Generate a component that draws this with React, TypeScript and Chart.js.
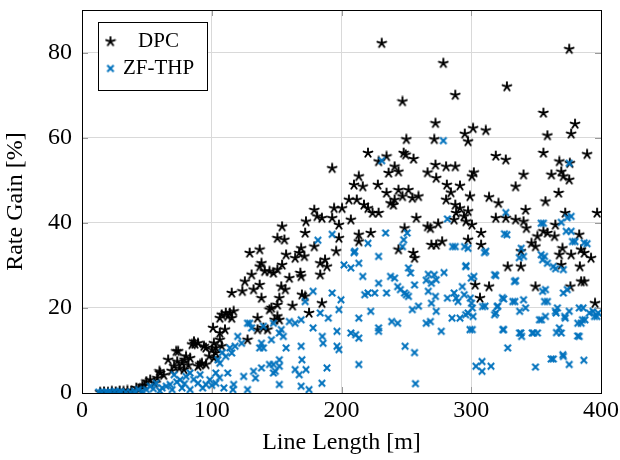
import React, { useEffect, useRef } from "react";
import { Chart, registerables } from "chart.js";

Chart.register(...registerables);

// ---- Data (line length [m], rate gain [%]) ----
const dpcPoints: [number, number][] = [
  [231, 82.2], [375.5, 80.8], [278.5, 77.5], [327.5, 72], [287.7, 70], [247, 68.5], [355.6, 65.8],
  [272.4, 63.4], [380, 63.2], [301.4, 62.2], [311.2, 61.7], [295, 60.9], [358.7, 60.5], [377, 60.9],
  [250, 59.6], [271.5, 59.6], [297.5, 59.1], [192.8, 52.8], [220.4, 56.4], [247.9, 56.4], [249.5, 56],
  [234.7, 55.6], [228.6, 54.4], [255.5, 55], [318.9, 55.7], [326.6, 54.8], [355.6, 56.4], [389.3, 56.1],
  [376, 54], [240.9, 53.2], [236.3, 51.7], [243.9, 52], [272.4, 53.6], [280.6, 53.2], [287.7, 53.2],
  [266.3, 51.8], [273, 50.5], [302, 51.8], [300.5, 50.9], [340.3, 51.3], [361.8, 51.3], [369.4, 52],
  [371, 50.9], [375.5, 50.1], [367.9, 54.4], [213.3, 50.9], [209.6, 48.9], [216.4, 48.5], [228, 48.9],
  [234.7, 47], [243.9, 47.7], [251.6, 47.7], [259.3, 46.2], [254.6, 45.8], [281.2, 48.9], [291.3, 48.7],
  [284.3, 47.1], [299, 46.2], [313.7, 46], [334.2, 48.5], [321, 44.6], [357.2, 45], [367.3, 47],
  [205.7, 45.4], [211.8, 45.4], [217.3, 44.2], [220.4, 43.4], [223.9, 42.3], [228.6, 42.3], [240, 44.2],
  [240.9, 45.4], [280.6, 45.4], [287.7, 44.2], [291.3, 43.4], [297.5, 42.7], [294.4, 41.5], [288.3, 42.3],
  [286.8, 40.7], [296, 40.3], [300.5, 39.5], [274.5, 39.8], [318.9, 41.1], [326.6, 41.1], [334.2, 40.7],
  [340.3, 40.3], [341.9, 43], [342.5, 38.7], [351, 36.8], [355.6, 38], [358.7, 37.6], [364.8, 39.5],
  [372.4, 42.3], [397, 42.3], [364.2, 36.8], [383.2, 37.2], [346.4, 35.2], [349.5, 34.4], [367.9, 32.5],
  [370.3, 34], [377, 32.5], [384.6, 33.7], [387.1, 32.9], [392.3, 31.7], [369.4, 30.1], [383.7, 29.7],
  [384.7, 26.2], [387.1, 26.2], [376.4, 25], [349.5, 25], [338.2, 33.3], [338.2, 29.7], [328.1, 29.7],
  [313.7, 25], [303, 25.4], [306.7, 22.3], [395.4, 21.1], [307.6, 37.6], [307.6, 34.8], [297.5, 36],
  [266.3, 39.1], [268.5, 38.7], [269.3, 34.8], [273, 34.8], [277.6, 35.6], [257.7, 41.1], [248.6, 38.7],
  [243.9, 33.7], [255.3, 32.9], [256.3, 31.7], [237.8, 44.6], [247, 46.2], [213.3, 37.2], [213.3, 35.6],
  [222.5, 37.6], [200.4, 43.4], [194.3, 43.4], [192.8, 41.1], [198, 39.5], [207.2, 40.7], [198, 36.4],
  [195.9, 33.3], [179, 43], [181.2, 41.5], [184.9, 41.1], [172.6, 40.3], [172, 37.6], [179, 34.4],
  [168.9, 34], [167.4, 32.9], [171.4, 32.1], [164.3, 31.7], [157.3, 32.5], [183.6, 30.5], [187.3, 31.3],
  [183.6, 27.8], [188.8, 29.7], [184.9, 21.1], [175, 18.8], [169.5, 23.1], [172, 22.7], [162.2, 20.5],
  [168.3, 28.2], [168.9, 27.4], [159.8, 27], [154.2, 30.1], [153.6, 25], [156.7, 24.3], [150.6, 29],
  [147.5, 28.2], [144.5, 28.6], [150.6, 36.4], [154.2, 39.1], [156, 36], [136.9, 33.7], [129.2, 32.9],
  [138.3, 30.5], [136.9, 29.7], [140.8, 28.6], [130.7, 27.8], [125.5, 26.2], [136.9, 25.4], [132.2, 24.3],
  [123.6, 23.9], [115.4, 23.5], [138.3, 22.3], [146, 20], [152.1, 22.3], [150.6, 20.7], [150.6, 18],
  [148.4, 17.2], [152.1, 17.2], [144.5, 19.6], [135.3, 17.6], [139.8, 15.3], [135.3, 14.9], [143, 14.9],
  [116.9, 19.2], [113.9, 18.8], [110.8, 18.8], [107.7, 18.4], [112.3, 18], [106.2, 17.6], [115.4, 17.6],
  [101, 15.3], [110.2, 14.9], [106.2, 14.1], [127.6, 12.5], [106.2, 12.5], [101.6, 11.7], [103.1, 10.6],
  [107.7, 11], [100.1, 10.2], [103.1, 9.4], [101.6, 8.2], [86.3, 12.1], [89.4, 11.7], [84.8, 11.4],
  [94, 11], [95.5, 10.6], [74.1, 9.8], [80.2, 8.6], [83.3, 8.2], [66.4, 7.8], [73.4, 7.4], [77.1, 7],
  [92.4, 7], [91, 6.7], [89.4, 6.3], [95.5, 6.7], [71, 6.3], [78.6, 5.5], [60.3, 4.7], [52.6, 3.1],
  [49.6, 2.7], [55.7, 2.3], [46.5, 1.6], [41.9, 1.2], [14, 0.2], [17, 0.3], [20, 0.2], [23, 0.4],
  [26, 0.3], [29, 0.5], [32, 0.4], [35, 0.6], [38, 0.5], [44, 0.9], [48, 1.8], [58, 3.5], [63, 4.2],
  [69, 5.2], [75, 5.8], [82, 6.5], [98, 8.6], [59.7, 5.1], [72.6, 9.8], [79, 7.8], [87, 11.5],
];

const zfPoints: [number, number][] = [
  [278.5, 59.3], [231, 54.6], [375.5, 54], [181.8, 35.9], [192.8, 37.3], [210.3, 33.3], [220.4, 35.2],
  [234, 37.6], [247.9, 36], [250.6, 37.6], [247, 34.4], [281.6, 40.9], [326.6, 42.4], [327.5, 37.2],
  [287.7, 34.4], [297.5, 34], [311.2, 33.3], [355.6, 39.9], [369.4, 40.1], [377, 41.5], [377, 38],
  [380, 35.6], [389.3, 35.1], [356.5, 32.1], [358.7, 30.5], [371, 29], [363.2, 29.7], [334.2, 26.4],
  [340.3, 32.1], [338.5, 34], [318.9, 27.6], [302, 27.4], [295.7, 29.7], [279, 28.3], [266.9, 27.9],
  [271.5, 27.8], [273, 26.6], [269.3, 25.8], [265.3, 26.5], [251.6, 29.4], [253.2, 28.2], [237.8, 27.4],
  [240.9, 27], [243.3, 25], [228.6, 25.8], [228.6, 32.1], [216.4, 27.4], [201.9, 30.1], [207.2, 29.4],
  [209.6, 33], [213.3, 30.5], [217.9, 23.1], [220.4, 23.5], [225.6, 23.5], [222.5, 19.2], [213.3, 17.6],
  [234.7, 23.5], [245.4, 24.3], [248.6, 23.5], [251.6, 22.7], [256.3, 25.4], [259.3, 20.4], [254.6, 19.6],
  [250, 23.1], [266.9, 23.9], [269.3, 21.1], [272.4, 22.7], [273, 19.2], [268.5, 16.8], [265.3, 16.4],
  [281.6, 22.3], [286.8, 23.5], [288.3, 22.3], [289.8, 21.5], [293.1, 25], [294.6, 23.1], [299.3, 22.3],
  [300.2, 21.1], [300.8, 20], [285.2, 17.6], [291.3, 17.6], [295.7, 18.4], [297.5, 18.8], [301.4, 18],
  [300.8, 14.9], [276.9, 14.5], [310.6, 20.4], [318.9, 18.8], [320.4, 20.4], [325, 22.1], [333.6, 21.5],
  [337.3, 19.2], [341.9, 20], [340.3, 21.9], [325, 14.9], [338.2, 14.1], [338.8, 13.3], [348, 14.1],
  [351, 14.1], [354.1, 17.2], [357.2, 18], [358.7, 21.5], [357.2, 24.3], [364.8, 19.2], [366.4, 20],
  [371, 23.5], [374, 24.3], [375.5, 19.2], [372.4, 17.6], [367.9, 15.3], [369.4, 14.1], [383.2, 20],
  [386.2, 20], [384.7, 16.4], [383.2, 13.3], [387.7, 17.2], [393.8, 19.2], [396.8, 18], [397.8, 18.8],
  [328.1, 10.6], [303.6, 6.3], [308.3, 7.4], [308.3, 5.1], [315.2, 6.3], [349.5, 6.1], [363.2, 8],
  [371, 8.6], [375.5, 6.7], [386.8, 7.7], [249, 11], [256.3, 9.5], [257, 2.2], [213.3, 6.7], [207.2, 14.1],
  [210.9, 13.7], [213.3, 12.9], [228.6, 15.3], [228.6, 14.5], [238.7, 16.8], [243.3, 16.4], [196.5, 14.5],
  [196.5, 11], [198, 10.2], [198, 19.6], [199.6, 21.9], [192.8, 23.5], [189.8, 17.6], [183.6, 18.8],
  [185.2, 13.3], [185.8, 11.7], [188.8, 5.9], [184.9, 2.3], [178.1, 23.9], [178.1, 15.3], [172, 21.5],
  [172.6, 5.5], [169.5, 7.8], [168.9, 11], [167.4, 4.3], [168.9, 1.6], [175, 0.8], [168.9, 17.2],
  [164.3, 16.4], [159.8, 16.8], [157.3, 10.6], [155.2, 13.3], [152.1, 7.8], [152.1, 6.3], [152.1, 2],
  [149, 5.1], [147.5, 6.7], [152.1, 14.1], [153.6, 14.9], [147.5, 16.4], [139.8, 15.7], [138.3, 11.7],
  [136.9, 10.6], [139.8, 10.6], [146, 12.5], [129.2, 16.4], [130.7, 15.3], [123, 11.7], [113.9, 10.6],
  [115.4, 9.4], [110.8, 8.6], [106.2, 7], [104.7, 7.8], [103.1, 4.7], [124.6, 3.9], [132.2, 5.1],
  [133.7, 3.5], [138.3, 5.9], [144.5, 6.7], [147.5, 4.7], [112.3, 4.7], [116.9, 2], [116.3, 0.8],
  [127.6, 0.8], [109.3, 1.2], [103.1, 2.3], [98.5, 3.1], [95.5, 2], [89.4, 2.3], [91, 4.3], [83.3, 4.7],
  [80.2, 3.9], [83.3, 0.8], [77.1, 1.2], [75.6, 3.1], [71, 4.3], [67.9, 2], [69.5, 0.8], [64.9, 1.6],
  [61.8, 1.2], [57.2, 2.3], [52.6, 1.6], [49.6, 0.8], [46.5, 0.4], [43.5, 0.8], [40.4, 0.4], [37.3, 0.2],
  [33.7, 0.2], [28.2, 0.2], [25.1, 0.4], [22, 0.2], [18.4, 0.2], [15.3, 0.2], [12.9, 0.2], [120, 13.3],
  [127.6, 16.4], [164.3, 5.5], [86, 3.2], [93, 1.2], [100, 1.8], [106, 3.6], [60, 0.5], [55, 1.0],
  [30, 0.3], [20, 0.1], [73, 2.6], [79, 2.2], [108, 9.5], [118, 11], [361.6, 8], [370.6, 9],
  [324.3, 14.9], [337.2, 14.1], [347, 14.1], [382, 13.4], [299, 14.9], [325.6, 37.4], [353.9, 39.9],
  [373.2, 38], [374, 41.2], [378, 35.6], [387, 35.3], [353.9, 32.5], [365, 29.2], [355, 31.3],
  [337, 31.8], [294.8, 34.4], [285.6, 34.4], [296, 29.9], [310.2, 33], [318, 27.8], [333.3, 26.2],
  [300, 27], [355, 23.9], [356.5, 21.5], [324, 22.4], [332, 21.5], [318, 18.4], [320, 20.3],
  [308.7, 20.3], [352.6, 17.2], [365.4, 18.8], [372, 18], [382.1, 16.4], [385.7, 17.2], [391, 18.8],
  [395, 18], [365.7, 14.2],
];

// ---- Style constants ----
const BLUE = "#0072bd";
const SERIF = "'Liberation Serif', 'DejaVu Serif', serif";
const xTicks = [0, 100, 200, 300, 400];
const yTicks = [0, 20, 40, 60, 80];

function makeStar(): HTMLCanvasElement {
  const c = document.createElement("canvas");
  c.width = 12;
  c.height = 12;
  const ctx = c.getContext("2d")!;
  ctx.strokeStyle = "#000";
  ctx.lineWidth = 1.9;
  ctx.lineCap = "round";
  ctx.beginPath();
  for (let i = 0; i < 5; i++) {
    const a = -Math.PI / 2 + (i * 2 * Math.PI) / 5;
    ctx.moveTo(6, 6);
    ctx.lineTo(6 + 4.6 * Math.cos(a), 6 + 4.6 * Math.sin(a));
  }
  ctx.stroke();
  return c;
}

function makeCross(): HTMLCanvasElement {
  const c = document.createElement("canvas");
  c.width = 10;
  c.height = 10;
  const ctx = c.getContext("2d")!;
  ctx.strokeStyle = BLUE;
  ctx.lineWidth = 2;
  ctx.lineCap = "butt";
  ctx.beginPath();
  ctx.moveTo(1.8, 1.8);
  ctx.lineTo(8.2, 8.2);
  ctx.moveTo(8.2, 1.8);
  ctx.lineTo(1.8, 8.2);
  ctx.stroke();
  return c;
}

export default function App() {
  const ref = useRef<HTMLCanvasElement | null>(null);

  useEffect(() => {
    document.body.style.margin = "0";
    const canvas = ref.current;
    if (!canvas) return;
    const star = makeStar();
    const cross = makeCross();

    const framePlugin = {
      id: "frame",
      afterDatasetsDraw(chart: any) {
        const { ctx, chartArea: a, scales } = chart;
        ctx.save();
        // inward tick marks
        ctx.strokeStyle = "#9a9a9a";
        ctx.lineWidth = 1;
        ctx.beginPath();
        for (const v of xTicks) {
          const px = Math.round(scales.x.getPixelForValue(v)) + 0.5;
          ctx.moveTo(px, a.bottom);
          ctx.lineTo(px, a.bottom - 6);
          ctx.moveTo(px, a.top);
          ctx.lineTo(px, a.top + 6);
        }
        for (const v of yTicks) {
          const py = Math.round(scales.y.getPixelForValue(v)) + 0.5;
          ctx.moveTo(a.left, py);
          ctx.lineTo(a.left + 6, py);
          ctx.moveTo(a.right, py);
          ctx.lineTo(a.right - 6, py);
        }
        ctx.stroke();
        // frame
        ctx.strokeStyle = "#000";
        ctx.lineWidth = 1;
        ctx.strokeRect(a.left + 0.5, a.top + 0.5, a.right - a.left, a.bottom - a.top);
        // legend
        const lx = a.left + 16.5;
        const ly = a.top + 12.5;
        const lw = 109;
        const lh = 68;
        ctx.fillStyle = "#fff";
        ctx.fillRect(lx, ly, lw, lh);
        ctx.strokeStyle = "#000";
        ctx.strokeRect(lx, ly, lw, lh);
        ctx.drawImage(star, lx + 12 - 6, ly + 19 - 6);
        ctx.drawImage(cross, lx + 12 - 5, ly + 46 - 5);
        ctx.fillStyle = "#000";
        ctx.font = `21px ${SERIF}`;
        ctx.textAlign = "center";
        ctx.textBaseline = "middle";
        ctx.fillText("DPC", lx + 60, ly + 19);
        ctx.fillText("ZF-THP", lx + 60, ly + 46);
        ctx.restore();
      },
    };

    const chart = new Chart(canvas, {
      type: "scatter",
      data: {
        datasets: [
          {
            label: "DPC",
            data: dpcPoints.map(([x, y]) => ({ x, y })),
            pointStyle: star as any,
            pointRadius: 5,
            order: 2,
          },
          {
            label: "ZF-THP",
            data: zfPoints.map(([x, y]) => ({ x, y })),
            pointStyle: cross as any,
            pointRadius: 5,
            order: 1,
          },
        ],
      },
      options: {
        animation: false,
        responsive: false,
        events: [],
        layout: { padding: { left: 0, right: 19, top: 10, bottom: 0 } },
        plugins: { legend: { display: false }, tooltip: { enabled: false } },
        scales: {
          x: {
            type: "linear",
            min: 0,
            max: 400,
            afterFit: (s: any) => {
              s.height = 67;
              s.paddingLeft = 0;
              s.paddingRight = 0;
            },
            afterBuildTicks: (s: any) => {
              s.ticks = xTicks.map((v) => ({ value: v }));
            },
            ticks: { color: "#000", font: { family: SERIF, size: 24 }, padding: 3, maxRotation: 0 },
            grid: { color: "#d9d9d9", drawTicks: false },
            border: { display: false },
            title: {
              display: true,
              text: "Line Length [m]",
              color: "#000",
              font: { family: SERIF, size: 24 },
              padding: { top: 0, bottom: 3 },
            },
          },
          y: {
            type: "linear",
            min: 0,
            max: 90,
            afterFit: (s: any) => {
              s.width = 82;
              s.paddingTop = 0;
              s.paddingBottom = 0;
            },
            afterBuildTicks: (s: any) => {
              s.ticks = yTicks.map((v) => ({ value: v }));
            },
            ticks: { color: "#000", font: { family: SERIF, size: 24 }, padding: 10 },
            grid: { color: "#d9d9d9", drawTicks: false },
            border: { display: false },
            title: {
              display: true,
              text: "Rate Gain [%]",
              color: "#000",
              font: { family: SERIF, size: 24 },
              padding: { top: 1, bottom: 0 },
            },
          },
        },
      },
      plugins: [framePlugin],
    });
    return () => chart.destroy();
  }, []);

  return (
    <div style={{ width: 620, height: 460 }}>
      <canvas ref={ref} width={620} height={460} style={{ display: "block" }} />
    </div>
  );
}
